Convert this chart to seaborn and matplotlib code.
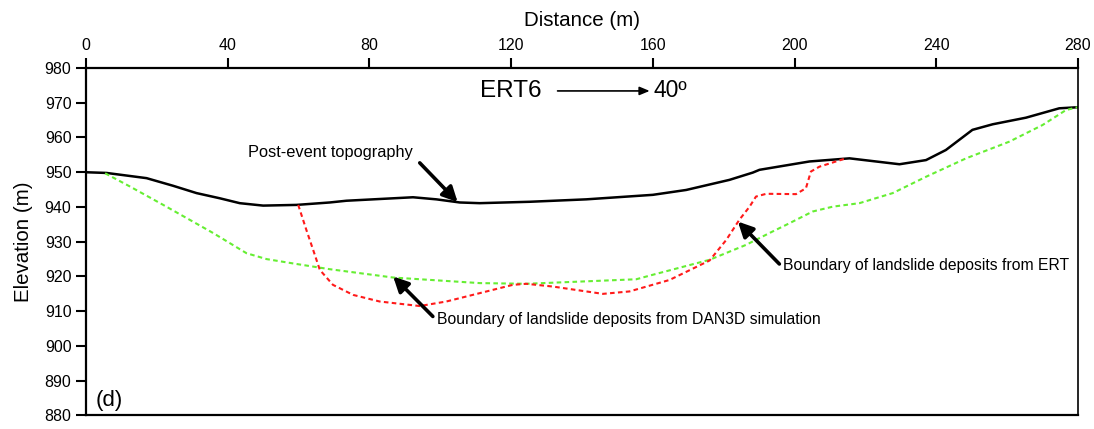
import matplotlib
matplotlib.use("Agg")
import matplotlib.pyplot as plt
import seaborn as sns
import pandas as pd

# Post-event ground surface along the ERT6 profile
topo_x = [0, 5.8, 17.1, 24.6, 31.2, 37.8, 43.4, 50.0, 59.4, 68.8, 73.5, 92.3,
          98.9, 105.5, 111.1, 125.2, 141.2, 160.0, 169.4, 181.6, 188.2, 190.1,
          204.2, 215.5, 229.6, 237.1, 242.7, 250.2, 255.9, 265.3, 274.7, 279.8]
topo_y = [950.0, 949.8, 948.3, 946.1, 944.0, 942.5, 941.1, 940.4, 940.6, 941.3,
          941.8, 942.8, 942.2, 941.3, 941.1, 941.5, 942.2, 943.5, 944.9, 947.8,
          949.9, 950.7, 953.1, 954.0, 952.3, 953.5, 956.4, 962.2, 963.8, 965.7,
          968.4, 968.7]

# Base of the deposits from the DAN3D run
dan_x = [5.4, 12.4, 21.8, 29.3, 35.9, 40.6, 45.3, 51.0, 59.4, 68.8, 86.7, 111.1,
         124.3, 155.3, 160.0, 176.0, 186.3, 192.9, 198.5, 205.1, 210.8, 218.3,
         227.7, 237.1, 248.4, 260.6, 270.0, 276.6, 279.8]
dan_y = [949.7, 945.9, 940.6, 936.3, 932.5, 929.6, 926.7, 925.0, 923.6, 922.1,
         919.7, 918.1, 917.9, 919.2, 920.5, 924.8, 929.1, 932.5, 935.3, 938.7,
         940.1, 941.1, 944.0, 948.7, 954.0, 958.8, 963.6, 967.9, 968.7]

# Base of the deposits interpreted from the resistivity section
ert_x = [59.9, 62.2, 64.1, 66.0, 69.7, 75.4, 82.9, 94.2, 101.7, 111.1, 120.5,
         124.3, 131.8, 145.9, 153.4, 164.7, 176.0, 180.7, 184.4, 187.3, 189.1,
         192.0, 200.4, 203.2, 204.6, 207.0, 214.5]
ert_y = [940.6, 933.4, 927.7, 921.9, 917.6, 914.7, 912.8, 911.5, 912.8, 915.2,
         917.6, 917.9, 917.1, 915.0, 915.7, 919.0, 924.6, 930.5, 936.3, 940.1,
         943.0, 943.8, 943.7, 945.4, 950.2, 951.6, 954.0]

x_ticks = [0, 40, 80, 120, 160, 200, 240, 280]
y_ticks = [880, 890, 900, 910, 920, 930, 940, 950, 960, 970, 980]

sns.set_style("ticks")
plt.rcParams["font.family"] = ["Liberation Sans", "DejaVu Sans"]
plt.rcParams["text.color"] = "black"
plt.rcParams["axes.labelcolor"] = "black"

fig = plt.figure(figsize=(10.94, 4.29), dpi=100)
ax = fig.add_axes([0.0786, 0.0315, 0.9068, 0.81])

topo = pd.DataFrame({"x": topo_x, "y": topo_y})
dan = pd.DataFrame({"x": dan_x, "y": dan_y})
ert = pd.DataFrame({"x": ert_x, "y": ert_y})

sns.lineplot(data=topo, x="x", y="y", ax=ax, color="black", lw=1.8, sort=False)
sns.lineplot(data=dan, x="x", y="y", ax=ax, color="#66ee33", lw=1.5,
             linestyle=(0, (2.2, 1.6)), sort=False)
sns.lineplot(data=ert, x="x", y="y", ax=ax, color="#ff1a1a", lw=1.5,
             linestyle=(0, (2.2, 1.6)), sort=False)

ax.set_xlim(0, 280)
ax.set_ylim(880, 980)
ax.set_xticks(x_ticks)
ax.set_yticks(y_ticks)
ax.xaxis.tick_top()
ax.xaxis.set_label_position("top")
ax.set_xlabel("Distance (m)", fontsize=14.8, labelpad=9)
ax.set_ylabel("Elevation (m)", fontsize=14.8, labelpad=8)
ax.tick_params(axis="both", labelsize=11.5, width=1.5, length=7.5, color="black",
               labelcolor="black", pad=3)
for side in ["top", "bottom", "left", "right"]:
    ax.spines[side].set_visible(True)
    ax.spines[side].set_color("black")
    ax.spines[side].set_linewidth(1.6)
ax.spines["right"].set_linewidth(1.2)

arrow = dict(arrowstyle="-|>,head_length=0.9,head_width=0.45", lw=2.6,
             color="black", shrinkA=0, shrinkB=0)

ax.text(45.7, 955.6, "Post-event topography", fontsize=11.8, va="center", ha="left")
ax.annotate("", xy=(104.9, 941.4), xytext=(94.2, 952.7), arrowprops=arrow)

ax.text(196.6, 923.3, "Boundary of landslide deposits from ERT", fontsize=11.3,
        va="center", ha="left")
ax.annotate("", xy=(184.0, 935.8), xytext=(195.7, 923.6), arrowprops=arrow)

ax.text(99.0, 907.5, "Boundary of landslide deposits from DAN3D simulation",
        fontsize=11.3, va="center", ha="left")
ax.annotate("", xy=(86.7, 920.0), xytext=(97.9, 908.5), arrowprops=arrow)

ax.text(111.1, 973.4, "ERT6", fontsize=17.5, va="center", ha="left")
ax.annotate("", xy=(159.1, 973.4), xytext=(133.1, 973.4),
            arrowprops=dict(arrowstyle="-|>,head_length=0.6,head_width=0.25",
                            lw=1.2, color="black", shrinkA=0, shrinkB=0))
ax.text(160.2, 973.4, "40º", fontsize=16.5, va="center", ha="left")

ax.text(2.8, 884.2, "(d)", fontsize=16, va="center", ha="left")

fig.savefig("out.png", dpi=100)
